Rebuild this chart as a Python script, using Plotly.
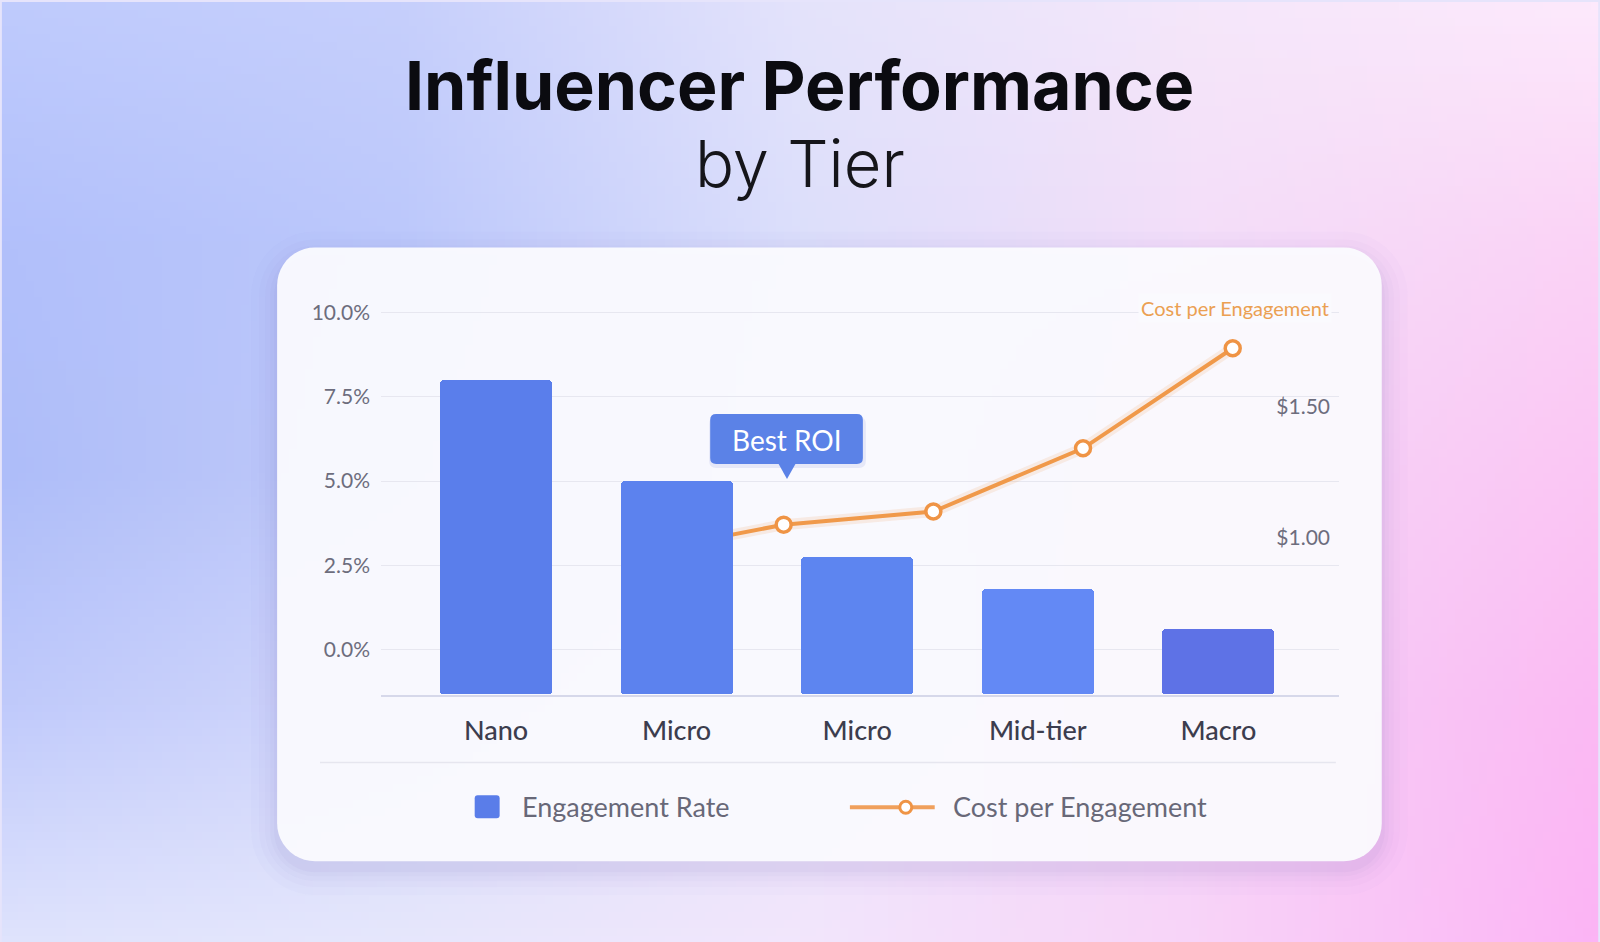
import numpy as np
import plotly.graph_objects as go

# ---------------- data ----------------
tiers = ["Nano", "Micro", "Micro", "Mid-tier", "Macro"]
engagement_rate = [8.0, 5.0, 2.75, 1.8, 0.6]          # percent
cost_per_engagement = [0.94, 1.05, 1.10, 1.34, 1.72]  # dollars
pct_ticks = [0.0, 2.5, 5.0, 7.5, 10.0]
cost_ticks = [1.00, 1.50]
pct_tick_labels = [f"{v:.1f}%" for v in pct_ticks]
cost_tick_labels = [f"${v:.2f}" for v in cost_ticks]

# ---------------- layout constants ----------------
W, H = 1600, 942
PLOT_L, PLOT_R, PLOT_T, PLOT_B = 381, 1339, 300, 694
XDOM = [PLOT_L / W, PLOT_R / W]
YDOM = [1 - PLOT_B / H, 1 - PLOT_T / H]
PCT_RANGE = [-1.33, 10.33]
COST_RANGE = [0.405, 1.898]
BAR_X_RANGE = [-0.637, 4.668]
LINE_X_RANGE = [-1.69, 4.71]

FONT = "Lato"
TITLE_FONT = "Inter"
CARD = (276, 246, 1383, 861, 38)

BG_GRID = [
    ["#bfcbfd", "#c6cffc", "#e4e3fb", "#f5e7fa", "#fde9fc"],
    ["#b2c0fb", "#bcc8fb", "#dcdffb", "#f4def9", "#fbd3f6"],
    ["#aebdf9", "#c2cbfa", "#e2e2fb", "#f6d6f8", "#fbc6f4"],
    ["#c0cafb", "#d3d8fb", "#ebe6fb", "#f6d2f8", "#fbbaf3"],
    ["#dfe3fd", "#e6e7fc", "#f2e6fc", "#f8d4f8", "#fcb4f5"],
]


def hex2rgb(h):
    return [int(h[i:i + 2], 16) for i in (1, 3, 5)]


# background gradient image (decoration)
STEP = 8
nx, ny = W // STEP, int(np.ceil(H / STEP))
grid = np.array([[hex2rgb(c) for c in row] for row in BG_GRID], float)
gx = np.linspace(0, 4, nx)
gy = np.linspace(0, 4, ny)
tmp = np.stack([np.stack([np.interp(gx, np.arange(5), grid[r, :, c]) for c in range(3)], -1)
                for r in range(5)])  # 5 x nx x 3
img = np.stack([np.stack([np.interp(gy, np.arange(5), tmp[:, i, c]) for c in range(3)], -1)
                for i in range(nx)], 1)  # ny x nx x 3
img = np.clip(img, 0, 255).astype(np.uint8)


def rrect(x0, y0, x1, y1, r, n=12):
    xs, ys = [], []
    corners = [(x1 - r, y0 + r, -90, 0), (x1 - r, y1 - r, 0, 90),
               (x0 + r, y1 - r, 90, 180), (x0 + r, y0 + r, 180, 270)]
    for cx, cy, a0, a1 in corners:
        for t in np.radians(np.linspace(a0, a1, n)):
            xs.append(cx + r * np.cos(t))
            ys.append(cy + r * np.sin(t))
    xs.append(xs[0])
    ys.append(ys[0])
    return xs, ys


def rrect_path(x0, y0, x1, y1, r):
    return (f"M {x0 + r} {y0} L {x1 - r} {y0} Q {x1} {y0} {x1} {y0 + r} "
            f"L {x1} {y1 - r} Q {x1} {y1} {x1 - r} {y1} L {x0 + r} {y1} "
            f"Q {x0} {y1} {x0} {y1 - r} L {x0} {y0 + r} Q {x0} {y0} {x0 + r} {y0} Z")


fig = go.Figure()

# background
fig.add_trace(go.Image(z=img, x0=STEP / 2, y0=STEP / 2, dx=STEP, dy=STEP,
                       xaxis="x", yaxis="y", hoverinfo="skip"))

# card shadow + card
cx0, cy0, cx1, cy1, cr = CARD
for s, a in [(26, 0.018), (18, 0.022), (12, 0.028), (7, 0.035), (3, 0.045)]:
    xs, ys = rrect(cx0 - s, cy0 - s + 10, cx1 + s, cy1 + s + 8, cr + s)
    fig.add_trace(go.Scatter(x=xs, y=ys, mode="lines", fill="toself",
                             fillcolor=f"rgba(110,100,180,{a})", line=dict(width=0),
                             hoverinfo="skip", showlegend=False, xaxis="x", yaxis="y"))
xs, ys = rrect(cx0, cy0, cx1, cy1, cr)
fig.add_trace(go.Scatter(x=xs, y=ys, mode="lines", fill="toself",
                         fillcolor="rgba(251,251,254,0.95)", line=dict(width=0),
                         hoverinfo="skip", showlegend=False, xaxis="x", yaxis="y"))

# cost line (base subplot, drawn below bars)
line_x = list(range(len(tiers)))
fig.add_trace(go.Scatter(x=line_x, y=cost_per_engagement, mode="lines",
                         line=dict(color="rgba(240,150,70,0.14)", width=11),
                         hoverinfo="skip", showlegend=False, xaxis="x2", yaxis="y2"))
fig.add_trace(go.Scatter(x=line_x, y=cost_per_engagement, mode="lines+markers",
                         name="Cost per Engagement",
                         line=dict(color="#f0994a", width=4),
                         marker=dict(size=15, color="white", line=dict(color="#ef9445", width=3.5)),
                         showlegend=False, xaxis="x2", yaxis="y2"))

# bars (overlay subplot, drawn above the line)
bar_colors = ["#5a7eeb", "#5c82ee", "#5d85f0", "#6389f5", "#5e72e6"]
fig.add_trace(go.Bar(x=list(range(len(tiers))),
                     y=[v - PCT_RANGE[0] for v in engagement_rate],
                     base=PCT_RANGE[0], width=0.62,
                     marker=dict(color=bar_colors, line=dict(width=0), cornerradius=3),
                     name="Engagement Rate", showlegend=False,
                     xaxis="x3", yaxis="y3"))

shapes = []
# separator inside card
shapes.append(dict(type="line", xref="x", yref="y", x0=319, x1=1337, y0=762, y1=762,
                   line=dict(color="#e6e6ef", width=1.5), layer="above"))
# tooltip
shapes.append(dict(type="path", xref="x", yref="y", layer="above",
                   path=rrect_path(709, 416, 866, 467, 7),
                   fillcolor="rgba(70,90,200,0.10)", line=dict(width=0)))
shapes.append(dict(type="path", xref="x", yref="y", layer="above",
                   path=rrect_path(710, 413, 863, 463, 6),
                   fillcolor="#5b82e7", line=dict(width=0)))
shapes.append(dict(type="path", xref="x", yref="y", layer="above",
                   path="M 778 462 L 787 478 L 796 462 Z",
                   fillcolor="#5b82e7", line=dict(width=0)))
# legend icons
shapes.append(dict(type="path", xref="x", yref="y", layer="above",
                   path=rrect_path(474, 795, 499, 818, 3),
                   fillcolor="#5a7de9", line=dict(width=0)))
shapes.append(dict(type="line", xref="x", yref="y", layer="above",
                   x0=850, x1=935, y0=807, y1=807,
                   line=dict(color="#f0a05c", width=4)))
shapes.append(dict(type="circle", xref="x", yref="y", layer="above",
                   x0=900, x1=912, y0=801, y1=813,
                   fillcolor="white", line=dict(color="#ef9445", width=3)))

annotations = [
    dict(text="<b>Influencer Performance</b>", x=800, y=83, xref="x", yref="y",
         showarrow=False, xanchor="center", yanchor="middle",
         font=dict(family=TITLE_FONT, size=68, color="#0b0b10", weight=700)),
    dict(text="by Tier", x=800, y=162, xref="x", yref="y",
         showarrow=False, xanchor="center", yanchor="middle",
         font=dict(family=TITLE_FONT, size=65, color="#15151a", weight=300)),
    dict(text="Best ROI", x=787, y=439, xref="x", yref="y",
         showarrow=False, xanchor="center", yanchor="middle",
         font=dict(family=FONT, size=28, color="white")),
    dict(text="Cost per Engagement", x=1333, y=307, xref="x", yref="y",
         showarrow=False, xanchor="right", yanchor="middle", bgcolor="#fafafe",
         borderpad=2,
         font=dict(family=FONT, size=20, color="#eba052")),
    dict(text="Engagement Rate", x=519, y=806, xref="x", yref="y",
         showarrow=False, xanchor="left", yanchor="middle",
         font=dict(family=FONT, size=27, color="#686878")),
    dict(text="Cost per Engagement", x=951, y=806, xref="x", yref="y",
         showarrow=False, xanchor="left", yanchor="middle",
         font=dict(family=FONT, size=27, color="#686878")),
]

fig.update_layout(
    width=W, height=H,
    margin=dict(l=0, r=0, t=0, b=0),
    paper_bgcolor="#e6e4fb",
    plot_bgcolor="rgba(0,0,0,0)",
    showlegend=False,
    bargap=0,
    xaxis=dict(domain=[0, 1], range=[0, W], visible=False, fixedrange=True),
    yaxis=dict(domain=[0, 1], range=[H, 0], visible=False, fixedrange=True),
    xaxis2=dict(domain=XDOM, range=LINE_X_RANGE, anchor="y2", visible=False),
    yaxis2=dict(domain=YDOM, range=COST_RANGE, anchor="x2", side="right",
                showgrid=False, zeroline=False, tickmode="array",
                tickvals=cost_ticks, ticktext=cost_tick_labels,
                ticklabelposition="inside", ticks="", ticklabelstandoff=6,
                tickfont=dict(family=FONT, size=21, color="#6d6d7d")),
    xaxis3=dict(domain=XDOM, range=BAR_X_RANGE, anchor="y3", overlaying="x2",
                tickmode="array", tickvals=list(range(len(tiers))), ticktext=tiers,
                showgrid=False, zeroline=False, ticks="",
                showline=True, linecolor="#d6d8ea", linewidth=2,
                ticklabelstandoff=11,
                tickfont=dict(family=FONT, size=27, color="#3c3d4e", weight=500)),
    yaxis3=dict(domain=YDOM, range=PCT_RANGE, anchor="x3", overlaying="y2", side="left",
                tickmode="array", tickvals=pct_ticks, ticktext=pct_tick_labels,
                showgrid=True, gridcolor="#e7e7f0", gridwidth=1, zeroline=False,
                ticks="", ticklabelstandoff=10,
                tickfont=dict(family=FONT, size=21, color="#6d6d7d")),
    shapes=shapes,
    annotations=annotations,
)

fig.write_html("out.html")
